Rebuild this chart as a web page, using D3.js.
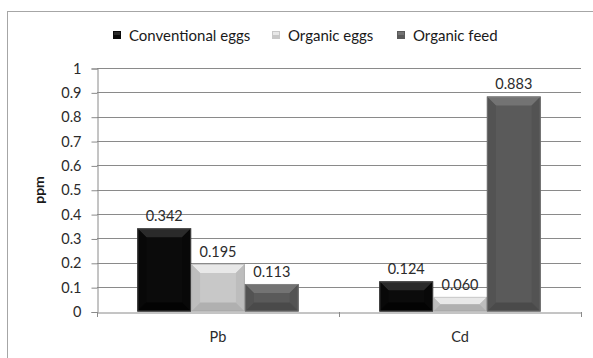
<!DOCTYPE html>
<html>
<head>
<meta charset="utf-8">
<script src="https://cdn.jsdelivr.net/npm/d3@7"></script>
<style>
  html, body { margin: 0; padding: 0; background: #fff; }
  svg { display: block; font-family: Lato, "Open Sans", sans-serif; }
</style>
</head>
<body>
<svg id="chart" width="593" height="358"></svg>
<script>
const categories = ["Pb", "Cd"];
const series = ["Conventional eggs", "Organic eggs", "Organic feed"];
const conventionalEggs = [0.342, 0.124];
const organicEggs = [0.195, 0.060];
const organicFeed = [0.113, 0.883];
const valueLabels = [["0.342", "0.124"], ["0.195", "0.060"], ["0.113", "0.883"]];
const yTicks = [0, 0.1, 0.2, 0.3, 0.4, 0.5, 0.6, 0.7, 0.8, 0.9, 1];

const seriesValues = [conventionalEggs, organicEggs, organicFeed];

// base, top bevel, side bevel, bottom bevel
const palette = [
  { base: "#0b0b0b", top: "#2a2a2a", side: "#080808", bottom: "#030303" },
  { base: "#c8c8c8", top: "#e8e8e8", side: "#bdbdbd", bottom: "#b0b0b0" },
  { base: "#5a5a5a", top: "#737373", side: "#535353", bottom: "#4a4a4a" }
];

const svg = d3.select("#chart");

// outer chart frame
svg.append("rect")
  .attr("x", 7.5).attr("y", 11.5)
  .attr("width", 620).attr("height", 400)
  .attr("fill", "none").attr("stroke", "#a6a6a6");

const left = 97, right = 581;
const x0 = d3.scaleBand().domain(categories).range([left, right]);
const x1 = d3.scaleBand().domain(series).range([0, x0.bandwidth()]).paddingOuter(0.75);
const y = d3.scaleLinear().domain([0, 1]).range([311.5, 68]);

// gridlines
svg.append("g")
  .selectAll("line")
  .data(yTicks.filter((d) => d > 0))
  .join("line")
  .attr("x1", left).attr("x2", right)
  .attr("y1", (d) => Math.round(y(d)) + 0.5)
  .attr("y2", (d) => Math.round(y(d)) + 0.5)
  .attr("stroke", "#8a8a8a");

// y axis
const yAxis = svg.append("g")
  .attr("transform", `translate(${left + 0.5},0.5)`)
  .call(d3.axisLeft(y).tickValues(yTicks).tickSize(6).tickPadding(10)
    .tickFormat((d) => String(+d.toFixed(1))));
yAxis.select(".domain").attr("stroke", "#8a8a8a");
yAxis.selectAll(".tick line").attr("stroke", "#8a8a8a");
yAxis.selectAll("text").attr("font-size", 14.5).attr("fill", "#2b2b2b")
  .attr("font-family", "Lato, sans-serif");

// x axis
const xAxis = svg.append("g")
  .attr("transform", `translate(0,${Math.round(y(0)) + 0.5})`)
  .call(d3.axisBottom(x0).tickSize(0).tickPadding(19));
xAxis.select(".domain").attr("stroke", "#8a8a8a");
xAxis.selectAll("text").attr("font-size", 14.5).attr("fill", "#2b2b2b")
  .attr("font-family", "Lato, sans-serif");
svg.append("g")
  .selectAll("line")
  .data([left, ...categories.map((c) => x0(c) + x0.bandwidth())])
  .join("line")
  .attr("x1", (d) => Math.round(d) + 0.5).attr("x2", (d) => Math.round(d) + 0.5)
  .attr("y1", Math.round(y(0))).attr("y2", Math.round(y(0)) + 5)
  .attr("stroke", "#8a8a8a");

// axis title
svg.append("text")
  .attr("transform", `translate(44,190) rotate(-90)`)
  .attr("text-anchor", "middle")
  .attr("font-size", 14).attr("font-weight", 700).attr("fill", "#1a1a1a")
  .text("ppm");

// bars with beveled faces
const bars = [];
seriesValues.forEach((vals, si) => {
  vals.forEach((v, ci) => {
    bars.push({ si, ci, v, label: valueLabels[si][ci] });
  });
});

const barG = svg.append("g");
bars.forEach((b) => {
  const bx = x0(categories[b.ci]) + x1(series[b.si]);
  const bw = x1.bandwidth();
  const by = y(b.v);
  const bh = y(0) - by;
  const bev = Math.min(9, bh / 2, bw / 2);
  const c = palette[b.si];
  const g = barG.append("g");
  g.append("rect").attr("x", bx).attr("y", by).attr("width", bw).attr("height", bh).attr("fill", c.base);
  const x2 = bx + bw, y2 = by + bh;
  const poly = (pts, fill) => g.append("polygon").attr("points", pts.map((p) => p.join(",")).join(" ")).attr("fill", fill);
  poly([[bx, by], [x2, by], [x2 - bev, by + bev], [bx + bev, by + bev]], c.top);
  poly([[bx, by], [bx + bev, by + bev], [bx + bev, y2 - bev], [bx, y2]], c.side);
  poly([[x2, by], [x2 - bev, by + bev], [x2 - bev, y2 - bev], [x2, y2]], c.side);
  poly([[bx, y2], [bx + bev, y2 - bev], [x2 - bev, y2 - bev], [x2, y2]], c.bottom);
  g.append("rect").attr("x", bx + 0.5).attr("y", by + 0.5).attr("width", bw - 1).attr("height", bh - 1)
    .attr("fill", "none").attr("stroke", "#9a9a9a").attr("stroke-opacity", 0.4);
  svg.append("text")
    .attr("x", bx + bw / 2).attr("y", by - 7)
    .attr("text-anchor", "middle")
    .attr("font-size", 14.5).attr("fill", "#2b2b2b")
    .text(b.label);
});

// legend
const legendX = [113, 272, 397];
const legend = svg.append("g");
series.forEach((s, i) => {
  const c = palette[i];
  legend.append("rect").attr("x", legendX[i]).attr("y", 31).attr("width", 8).attr("height", 8).attr("fill", c.base);
  legend.append("rect").attr("x", legendX[i] + 1).attr("y", 32).attr("width", 6).attr("height", 3).attr("fill", c.top);
  legend.append("text")
    .attr("x", legendX[i] + 16).attr("y", 41)
    .attr("font-size", 15).attr("fill", "#1a1a1a")
    .text(s);
});
</script>
</body>
</html>
